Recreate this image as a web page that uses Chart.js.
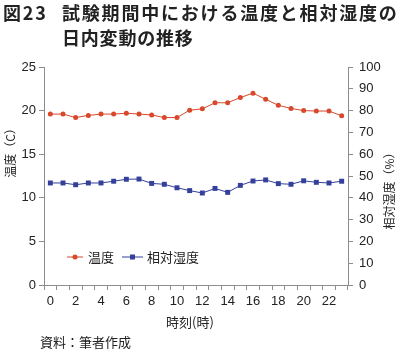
<!DOCTYPE html>
<html>
<head>
<meta charset="utf-8">
<script src="https://cdn.jsdelivr.net/npm/chart.js@4"></script>
<style>
  body { margin: 0; background: #fff; }
  canvas { display: block; }
</style>
</head>
<body>
<canvas id="chart" width="400" height="353"></canvas>
<script>
// hours 0-23
var hours = ['0','1','2','3','4','5','6','7','8','9','10','11','12','13','14','15','16','17','18','19','20','21','22','23'];
// temperature (C)
var temperature = [19.6, 19.6, 19.2, 19.45, 19.6, 19.6, 19.7, 19.6, 19.5, 19.2, 19.2, 20.05, 20.2, 20.9, 20.9, 21.5, 22.0, 21.3, 20.6, 20.25, 20.0, 19.95, 19.95, 19.4];
// relative humidity (%)
var humidity = [46.8, 46.8, 46.0, 46.8, 46.8, 47.6, 48.5, 48.6, 46.6, 46.2, 44.6, 43.3, 42.2, 44.3, 42.5, 45.7, 47.7, 48.2, 46.5, 46.2, 47.8, 47.1, 46.8, 47.6];

var TEMP_COLOR = '#d8482c';
var HUM_COLOR = '#34409a';
var AXIS_COLOR = '#8c8c8c';
var JP = '"Noto Sans CJK JP", sans-serif';
var NUM = '"Liberation Sans", Arial, sans-serif';

// titles, axis titles, legend and source drawn on the canvas
var textPlugin = {
    id: 'texts',
    afterDraw: function(chart) {
        var ctx = chart.ctx;
        ctx.save();
        ctx.fillStyle = '#222';
        ctx.textBaseline = 'middle';

        // figure title
        ctx.font = 'bold 18px ' + JP;
        ctx.letterSpacing = '1.8px';
        ctx.textAlign = 'left';
        ctx.fillText('図23', 3, 13);
        ctx.fillText('試験期間中における温度と相対湿度の', 62, 13);
        ctx.letterSpacing = '0.8px';
        ctx.fillText('日内変動の推移', 62, 38);
        ctx.letterSpacing = '0px';

        // left axis title
        ctx.font = '12px ' + JP;
        ctx.save();
        ctx.translate(10, 150);
        ctx.rotate(-Math.PI / 2);
        ctx.textAlign = 'center';
        ctx.fillText('温度（C）', 0, 0);
        ctx.restore();

        // right axis title
        ctx.save();
        ctx.translate(389, 188);
        ctx.rotate(-Math.PI / 2);
        ctx.textAlign = 'center';
        ctx.fillText('相対湿度（%）', 0, 0);
        ctx.restore();

        // x axis title + source
        ctx.font = '13px ' + JP;
        ctx.textAlign = 'center';
        ctx.fillText('時刻(時)', 190, 322);
        ctx.textAlign = 'left';
        ctx.fillText('資料：筆者作成', 40, 342);

        // legend inside the plot
        var ly = 257;
        ctx.lineWidth = 1;
        ctx.strokeStyle = TEMP_COLOR;
        ctx.beginPath(); ctx.moveTo(67, ly); ctx.lineTo(83, ly); ctx.stroke();
        ctx.fillStyle = TEMP_COLOR;
        ctx.beginPath(); ctx.arc(75, ly, 2.5, 0, Math.PI * 2); ctx.fill();
        ctx.strokeStyle = HUM_COLOR;
        ctx.beginPath(); ctx.moveTo(122, ly); ctx.lineTo(143, ly); ctx.stroke();
        ctx.fillStyle = HUM_COLOR;
        ctx.fillRect(130, ly - 2.5, 5, 5);
        ctx.fillStyle = '#222';
        ctx.font = '13px ' + JP;
        ctx.fillText('温度', 88, ly);
        ctx.fillText('相対湿度', 147, ly);
        ctx.restore();
    }
};

new Chart(document.getElementById('chart'), {
    type: 'line',
    data: {
        labels: hours,
        datasets: [{
            label: '温度',
            data: temperature,
            yAxisID: 'y',
            borderColor: TEMP_COLOR,
            backgroundColor: TEMP_COLOR,
            borderWidth: 1,
            pointStyle: 'circle',
            pointRadius: 2.5,
            pointBorderWidth: 0,
            tension: 0
        }, {
            label: '相対湿度',
            data: humidity,
            yAxisID: 'y2',
            borderColor: HUM_COLOR,
            backgroundColor: HUM_COLOR,
            borderWidth: 1,
            pointStyle: 'rect',
            pointRadius: 3.5,
            pointBorderWidth: 0,
            tension: 0
        }]
    },
    options: {
        responsive: false,
        animation: false,
        layout: { padding: { top: 67, left: 0, right: 0, bottom: 0 } },
        plugins: {
            legend: { display: false },
            tooltip: { enabled: false }
        },
        scales: {
            x: {
                offset: true,
                grid: { offset: true, drawOnChartArea: false, tickLength: 5, color: AXIS_COLOR },
                border: { color: AXIS_COLOR },
                ticks: {
                    autoSkip: false,
                    maxRotation: 0,
                    padding: 4,
                    color: '#222',
                    font: { family: NUM, size: 13 },
                    callback: function(v, i) { return i % 2 === 0 ? hours[i] : ''; }
                },
                afterFit: function(s) { s.height = 68; }
            },
            y: {
                position: 'left',
                min: 0, max: 25,
                ticks: { stepSize: 5, padding: 3, color: '#222', font: { family: NUM, size: 13 } },
                grid: { drawOnChartArea: false, tickLength: 5, color: AXIS_COLOR },
                border: { color: AXIS_COLOR },
                afterFit: function(s) { s.width = 44; }
            },
            y2: {
                position: 'right',
                min: 0, max: 100,
                ticks: { stepSize: 10, padding: 6, color: '#222', font: { family: NUM, size: 13 } },
                grid: { drawOnChartArea: false, tickLength: 5, color: AXIS_COLOR },
                border: { color: AXIS_COLOR },
                afterFit: function(s) { s.width = 52; }
            }
        }
    },
    plugins: [textPlugin]
});
</script>
</body>
</html>
